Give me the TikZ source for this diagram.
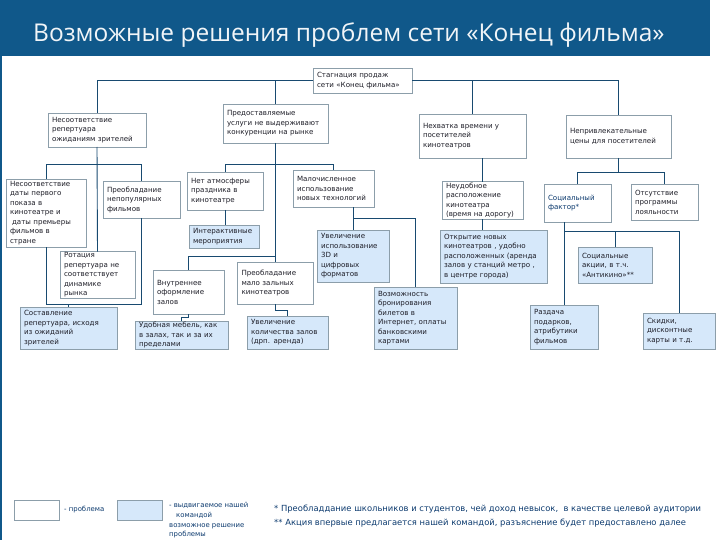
\documentclass[tikz,border=0pt]{standalone}
\usepackage{fontspec}
\setmainfont{DejaVu Sans}
\newfontfamily\titlefont{Open Sans}

\definecolor{headerColor}{RGB}{16,88,138}
\definecolor{lineColor}{RGB}{24,74,112}
\definecolor{frameColor}{RGB}{140,158,170}
\definecolor{solutionColor}{RGB}{214,232,250}
\definecolor{textColor}{RGB}{30,30,40}
\definecolor{noteColor}{RGB}{12,58,110}

\tikzset{
  problem/.style={draw=frameColor, fill=white, line width=0.7pt, inner xsep=4pt, inner ysep=1pt,
    align=left, outer sep=0pt, text=textColor, font=\fontsize{7.1}{9.5}\selectfont},
  solution/.style={problem, fill=solutionColor},
  link/.style={draw=lineColor, line width=0.9pt},
  legend/.style={text=noteColor, inner sep=0pt, align=left, font=\fontsize{6.9}{9.8}\selectfont},
  note/.style={text=noteColor, inner sep=0pt, font=\fontsize{8.4}{10}\selectfont}
}

\begin{document}
\begin{tikzpicture}[x=1pt,y=-1pt]
  \useasboundingbox (0,0) rectangle (720,540);
  \fill[headerColor] (0,0) rectangle (710,56);
  \draw[headerColor, line width=2pt] (1,56) -- (1,540);
  \node[anchor=base west, inner sep=0pt, text=white!94!headerColor,
    font=\titlefont\fontsize{24.5}{28}\selectfont] (title) at (33,42)
    {Возможные решения проблем сети «Конец фильма»};
  % Problems
  \node[problem, text width=91pt, minimum height=25pt] (stagnation) at (362.5,80.5) {Стагнация продаж\\сети «Конец фильма»};
  \node[problem, text width=90pt, minimum height=34pt] (repertoire) at (97,130) {Несоответствие\\репертуара\\ожиданиям зрителей};
  \node[problem, text width=97pt, minimum height=39pt] (services) at (275.5,123.5) {Предоставляемые\\услуги не выдерживают\\конкуренции на рынке};
  \node[problem, text width=99pt, minimum height=44pt] (lackTime) at (472.5,136) {Нехватка времени у\\посетителей\\кинотеатров};
  \node[problem, text width=97pt, minimum height=43pt] (prices) at (618.5,136.5) {Непривлекательные\\цены для посетителей};
  \node[problem, text width=72pt, minimum height=68pt] (premiereDates) at (46,213) {Несоответствие\\даты первого\\показа в\\кинотеатре и\\\hspace{2pt}даты премьеры\\фильмов в\\стране};
  \node[problem, text width=69pt, minimum height=37pt] (unpopularFilms) at (141.5,199.5) {Преобладание\\непопулярных\\фильмов};
  \node[problem, text width=67pt, minimum height=46pt] (rotation) at (97.5,275) {Ротация\\репертуара не\\соответствует\\динамике\\рынка};
  \node[problem, text width=68pt, minimum height=38pt] (atmosphere) at (225,191) {Нет атмосферы\\праздника в\\кинотеатре};
  \node[problem, text width=73pt, minimum height=37pt] (technologies) at (333.5,188.5) {Малочисленное\\использование\\новых технологий};
  \node[problem, text width=63pt, minimum height=44pt] (interior) at (188.5,292) {Внутреннее\\оформление\\залов};
  \node[problem, text width=68pt, minimum height=42pt] (smallCinemas) at (275.5,283) {Преобладание\\мало зальных\\кинотеатров};
  \node[problem, text width=73pt, minimum height=37pt] (location) at (482.5,200.5) {Неудобное\\расположение\\кинотеатра\\(время на дорогу)};
  \node[problem, text width=59pt, minimum height=38pt, text=noteColor] (socialFactor) at (577.5,203) {Социальный\\фактор*};
  \node[problem, text width=59pt, minimum height=36pt] (loyalty) at (664.5,202) {Отсутствие\\программы\\лояльности};
  % Solutions
  \node[solution, text width=89pt, minimum height=42pt] (newRepertoire) at (68.5,328) {Составление\\репертуара, исходя\\из ожиданий\\зрителей};
  \node[solution, text width=62pt, minimum height=23pt] (events) at (224,236.5) {Интерактивные\\мероприятия};
  \node[solution, text width=64pt, minimum height=52pt] (formats) at (353,256) {Увеличение\\использование\\3D и\\цифровых\\форматов};
  \node[solution, text width=75pt, minimum height=62pt] (booking) at (415.5,318) {Возможность\\бронирования\\билетов в\\Интернет, оплаты\\банковскими\\картами};
  \node[solution, text width=85pt, minimum height=28pt] (furniture) at (181.5,335) {Удобная мебель, как\\в залах, так и за их\\пределами};
  \node[solution, text width=73pt, minimum height=33pt] (moreHalls) at (287.5,332.5) {Увеличение\\количества залов\\(дрп. аренда)};
  \node[solution, text width=99pt, minimum height=53pt] (newCinemas) at (493.5,256.5) {Открытие новых\\кинотеатров , удобно\\расположенных (аренда\\залов у станций метро ,\\в центре города)};
  \node[solution, text width=66pt, minimum height=36pt] (socialActions) at (615,265) {Социальные\\акции, в т.ч.\\«Антикино»**};
  \node[solution, text width=60pt, minimum height=44pt] (gifts) at (564,327) {Раздача\\подарков,\\атрибутики\\фильмов};
  \node[solution, text width=64pt, minimum height=36pt] (discounts) at (679,331) {Скидки,\\дисконтные\\карты и т.д.};
  % Links
  \draw[link] (repertoire.north) |- (stagnation.west);
  \draw[link] (stagnation.east) -| (prices.north);
  \draw[link] (services.north) -- (services.north |- stagnation.west);
  \draw[link] (lackTime.north) -- (lackTime.north |- stagnation.east);
  \draw[link] (repertoire.south) -- (rotation.north);
  \draw[link] (premiereDates.north) -- ++(0,-15) -| (unpopularFilms.north);
  \draw[link] (premiereDates.south) -- ++(0,57) -| (unpopularFilms.south);
  \draw[link] (newRepertoire.north) -- ++(0,-3);
  \draw[link] (services.south) -- (smallCinemas.north);
  \draw[link] (atmosphere.north) -- ++(0,-8) -| (technologies.north);
  \draw[link] (interior.north) -- ++(0,-14) -| (services.south);
  \draw[link] (atmosphere.south) -- (atmosphere.south |- events.north);
  \draw[link] (formats.north) -- (formats.north |- technologies.south);
  \draw[link] (formats.north |- technologies.south) ++(0,11) -| (booking.north);
  \draw[link] (interior.south) -- ++(0,3) -| (furniture.north);
  \draw[link] (smallCinemas.south) -- ++(0,6) -| (moreHalls.north);
  \draw[link] (location.north) -- (location.north |- lackTime.south);
  \draw[link] (location.south) -- (location.south |- newCinemas.north);
  \draw[link] (prices.south) -- ++(0,14);
  \draw[link] (socialFactor.north) -- ++(0,-12) -| (loyalty.north);
  \draw[link] (gifts.north) -- (gifts.north |- socialFactor.south);
  \draw[link] (gifts.north |- socialFactor.south) ++(0,9) -| (discounts.north);
  \draw[link] (socialActions.north) -- ++(0,-16);
  % Legend
  \node[problem, minimum width=45pt, minimum height=20pt] (legendProblem) at (36.5,510) {};
  \node[legend, anchor=west] (legendProblemText) at (64,510) {- проблема};
  \node[solution, minimum width=45pt, minimum height=20pt] (legendSolution) at (139.5,510) {};
  \node[legend, anchor=north west] (legendSolutionText) at (169,502) {- выдвигаемое нашей\\\hspace{7pt}командой\\возможное решение\\проблемы};
  \node[note, anchor=base west] (noteOne) at (274,511) {* Преобладдание школьников и студентов, чей доход невысок,\ \ в качестве целевой аудитории};
  \node[note, anchor=base west] (noteTwo) at (274,525) {** Акция впервые предлагается нашей командой, разъяснение будет предоставлено далее};
\end{tikzpicture}
\end{document}
